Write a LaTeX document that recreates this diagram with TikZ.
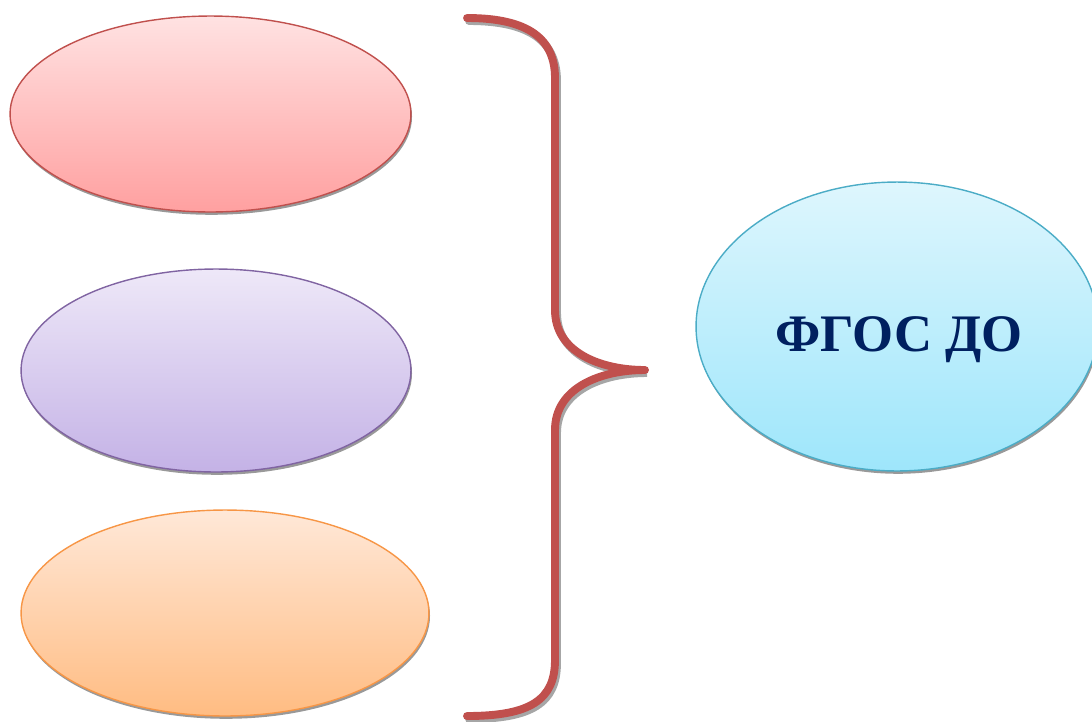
\documentclass[tikz,border=0pt]{standalone}
\usepackage{xcolor}
\usepackage{fontspec}
\setmainfont{Liberation Serif}
\usetikzlibrary{shapes.geometric,shadows}

\definecolor{bracered}{HTML}{C0504D}
\definecolor{fgosblue}{HTML}{002060}
\definecolor{violetline}{HTML}{8064A2}
\definecolor{orangeline}{HTML}{F79646}
\definecolor{blueline}{HTML}{4BACC6}

\tikzset{
  oval/.style={ellipse, draw, line width=0.8pt, inner sep=0pt,
    drop shadow={shadow xshift=0.6pt, shadow yshift=-1.6pt, fill=black!40, opacity=1}},
}

\begin{document}
\begin{tikzpicture}[x=0.02cm,y=-0.02cm]
\useasboundingbox (0,0) rectangle (1092,721);

\node[oval, draw=bracered, top color={rgb,255:red,255;green,226;blue,226}, bottom color={rgb,255:red,255;green,160;blue,160},
  minimum width=8.02cm, minimum height=3.92cm] (redoval) at (210.5,114) {};
\node[oval, draw=violetline, top color={rgb,255:red,238;green,232;blue,248}, bottom color={rgb,255:red,196;green,178;blue,230},
  minimum width=7.8cm, minimum height=4.06cm] (violetoval) at (216,370.5) {};
\node[oval, draw=orangeline, top color={rgb,255:red,255;green,232;blue,216}, bottom color={rgb,255:red,255;green,188;blue,130},
  minimum width=8.16cm, minimum height=4.12cm] (orangeoval) at (225,613) {};
\node[oval, draw=blueline, top color={rgb,255:red,222;green,246;blue,253}, bottom color={rgb,255:red,158;green,230;blue,251},
  minimum width=8.04cm, minimum height=5.78cm] (fgos) at (897,326.5) {};
\node[font=\bfseries, text=fgosblue, scale=3] (fgostext) at (899,340) {ФГОС ДО};

% brace
\draw[black!35, line width=4.5pt, line cap=round, xshift=0.04cm, yshift=-0.06cm]
  (467,18) .. controls (530,18) and (555,40) .. (555,78) -- (555,310)
  .. controls (555,352) and (600,370) .. (645,370)
  .. controls (600,370) and (555,388) .. (555,430) -- (555,660)
  .. controls (555,700) and (530,716) .. (467,716);
\draw[bracered, line width=4.5pt, line cap=round, line join=round]
  (467,18) .. controls (530,18) and (555,40) .. (555,78) -- (555,310)
  .. controls (555,352) and (600,370) .. (645,370)
  .. controls (600,370) and (555,388) .. (555,430) -- (555,660)
  .. controls (555,700) and (530,716) .. (467,716);
\end{tikzpicture}
\end{document}
